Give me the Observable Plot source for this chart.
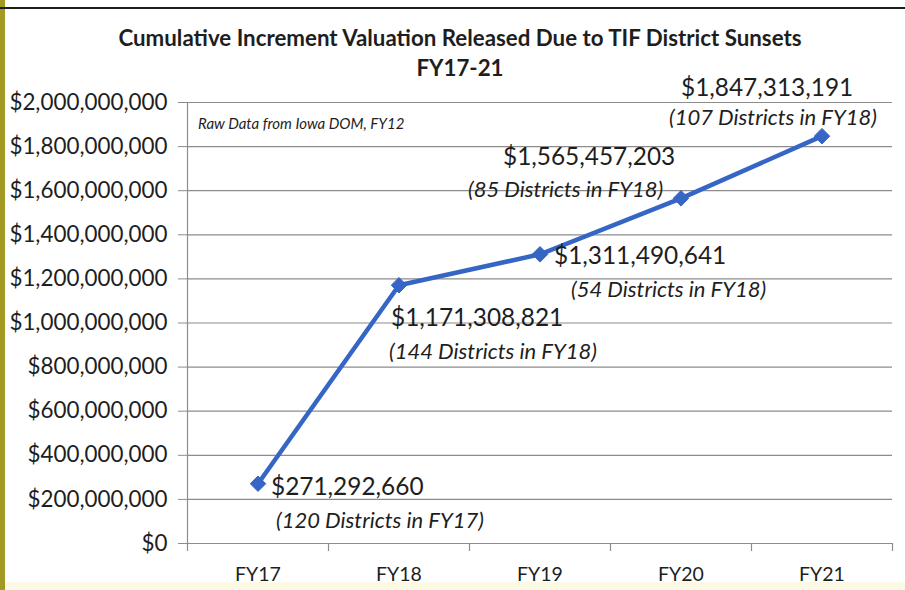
<!DOCTYPE html>
<html>
<head>
<meta charset="utf-8">
<script src="https://cdn.jsdelivr.net/npm/d3@7"></script>
<script src="https://cdn.jsdelivr.net/npm/@observablehq/plot@0.6"></script>
<style>
  html, body { margin: 0; padding: 0; background: #fff; }
  #page { position: relative; width: 905px; height: 590px; overflow: hidden; background: #fff; font-family: Lato, sans-serif; color: #1e1e1e; }
  #leftbar { position: absolute; left: 0; top: 0; width: 5px; height: 590px; background: #a29a22; }
  #topline { position: absolute; left: 0; top: 7px; width: 905px; height: 2px; background: #1e1e1e; }
  #bottomstrip { position: absolute; left: 5px; top: 582px; width: 900px; height: 8px; background: #fcfae4; }
  .title { position: absolute; left: 5px; width: 910px; text-align: center; font-weight: bold; font-size: 22.3px; line-height: 26px; }
  #chart { position: absolute; left: 0; top: 80px; }
  #note { position: absolute; left: 198px; top: 114px; font-style: italic; font-size: 15px; }
</style>
</head>
<body>
<div id="page">
  <div id="leftbar"></div>
  <div id="topline"></div>
  <div id="bottomstrip"></div>
  <div class="title" style="top:25px">Cumulative Increment Valuation Released Due to TIF District Sunsets</div>
  <div class="title" style="top:55px">FY17-21</div>
  <div id="chart"></div>
  <div id="note">Raw Data from Iowa DOM, FY12</div>
</div>
<script>
const years = ["FY17", "FY18", "FY19", "FY20", "FY21"];
const values = [271292660, 1171308821, 1311490641, 1565457203, 1847313191];
const districtNotes = [
  "(120 Districts in FY17)",
  "(144 Districts in FY18)",
  "(54 Districts in FY18)",
  "(85 Districts in FY18)",
  "(107 Districts in FY18)"
];
const yTicks = [0, 200000000, 400000000, 600000000, 800000000, 1000000000, 1200000000, 1400000000, 1600000000, 1800000000, 2000000000];

const data = years.map((year, i) => ({year, value: values[i], note: districtNotes[i]}));

// label placement (pixel offsets from each point) — layout, not data
const valueOffsets = [[13, 4], [-8, 33], [14, 2], [-178, -41], [-141, -48]];
const noteOffsets = [[18, 37], [-10, 67], [31, 36], [-213, -8], [-153, -18]];

const W = 905, H = 510, mL = 187, mR = 13, mT = 22, mB = 47;
const bw = (W - mL - mR) / years.length;
const blue = "#3566c6";
const grid = "#8c8c8c";
const fmt = d3.format("$,");

const textMarks = [];
data.forEach((d, i) => {
  textMarks.push(Plot.text([d], {x: "year", y: "value", text: (d) => fmt(d.value), textAnchor: "start", dx: valueOffsets[i][0], dy: valueOffsets[i][1], fontSize: 24.4, fill: "#1e1e1e"}));
  textMarks.push(Plot.text([d], {x: "year", y: "value", text: "note", textAnchor: "start", dx: noteOffsets[i][0], dy: noteOffsets[i][1], fontSize: 22, fontStyle: "italic", fill: "#1e1e1e"}));
});

const tickLen = 8 * 2000000000 / (H - mT - mB);

const chart = Plot.plot({
  width: W, height: H,
  marginLeft: mL, marginRight: mR, marginTop: mT, marginBottom: mB,
  style: {fontFamily: "Lato, sans-serif", background: "transparent", overflow: "visible", color: "#1e1e1e"},
  x: {type: "band", domain: years, padding: 0, label: null},
  y: {domain: [0, 2000000000], label: null},
  marks: [
    Plot.gridY({ticks: yTicks, stroke: grid, strokeOpacity: 1, strokeWidth: 1.2}),
    Plot.axisY({ticks: yTicks, tickFormat: fmt, tickSize: 9, tickPadding: 11, fontSize: 22.4, stroke: grid, fill: "#1e1e1e", label: null}),
    Plot.axisX({tickSize: 0, tickPadding: 24, fontSize: 19.5, fill: "#1e1e1e", label: null}),
    Plot.ruleX(years, {x: (d) => d, dx: -bw / 2, y1: 0, y2: -tickLen, stroke: grid, strokeWidth: 1.2}),
    Plot.ruleX([years[years.length - 1]], {x: (d) => d, dx: bw / 2, y1: 0, y2: -tickLen, stroke: grid, strokeWidth: 1.2}),
    Plot.ruleX([years[0]], {x: (d) => d, dx: -bw / 2, y1: 0, y2: 2000000000, stroke: grid, strokeWidth: 1.2}),
    Plot.line(data, {x: "year", y: "value", stroke: blue, strokeWidth: 4.5}),
    Plot.dot(data, {x: "year", y: "value", symbol: "diamond2", r: 7, fill: blue, stroke: blue, strokeWidth: 1}),
    ...textMarks
  ]
});
document.getElementById("chart").appendChild(chart);
</script>
</body>
</html>
